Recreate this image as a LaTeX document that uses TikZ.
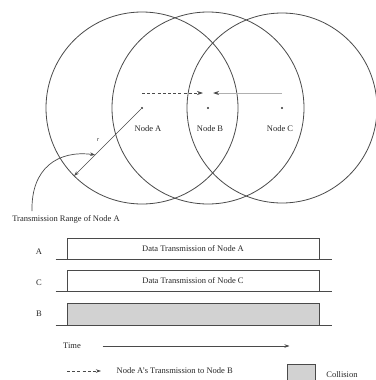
\documentclass[tikz,border=0pt]{standalone}
\usepackage{fontspec}
\setmainfont{Liberation Serif}
\usetikzlibrary{arrows.meta, positioning, calc}
\definecolor{inkgray}{HTML}{4A4A4A}
\definecolor{lightink}{HTML}{B0B0B0}
\definecolor{noisegray}{HTML}{D2D2D2}

\begin{document}
\begin{tikzpicture}[x=1pt, y=-1pt, >={Stealth[length=5pt, width=3.5pt]}, line width=0.7pt,
  lbl/.style={font=\fontsize{8.5}{10}\selectfont, text=black!85},
  dot/.style={circle, fill=black!80, inner sep=0pt, minimum size=2.2pt},
  rangeline/.style={inkgray, line width=0.8pt},
  txbox/.style={draw=inkgray, line width=0.6pt, minimum width=252pt, minimum height=21pt, inner sep=0pt, lbl},
  groundline/.style={inkgray, line width=0.9pt}]

\useasboundingbox (0,0) rectangle (375,380);

% Nodes and their ranges
\node[dot] (A) at (142,108) {};
\node[dot] (B) at (208,108) {};
\node[dot] (C) at (282,108) {};
\draw[rangeline] (A) circle (96pt);
\draw[rangeline] (B) circle (96pt);
\draw[rangeline] (C) circle (95pt);
\node[lbl, below=12pt of A, xshift=6pt] (labA) {Node A};
\node[lbl, below=12pt of B, xshift=2pt] (labB) {Node B};
\node[lbl, below=12pt of C, xshift=-2pt] (labC) {Node C};

% Transmissions towards B
\draw[-{Stealth[length=6pt, width=4pt]}, inkgray, dash pattern=on 3pt off 2.2pt] ([yshift=15pt]A.center) -- ([xshift=-5pt, yshift=15pt]B.center);
\draw[-{Stealth[length=6pt, width=4pt, inkgray]}, lightink, line width=0.9pt] ([yshift=15pt]C.center) -- ([xshift=5pt, yshift=15pt]B.center);

% Radius of A
\coordinate (rim) at ($(A)+(225:96pt)$);
\draw[->, inkgray] (A) -- (rim);
\node[lbl, font=\fontsize{6}{7}\selectfont\itshape] (r) at (98,140) {r};
\coordinate (rtail) at (32,211);
\draw[->, inkgray] (rtail) .. controls (31,168) and (58,150) .. ($(A)!0.69!(rim)$);
\node[lbl] (rangelbl) at (66,219) {Transmission Range of Node A};

% Timing of A, C and B
\node[txbox] (txA) at (193,248.5) {Data Transmission of Node A};
\node[txbox] (txC) at (193,280.5) {Data Transmission of Node C};
\node[txbox, fill=noisegray, minimum height=22pt] (txB) at (193,314) {};
\foreach \n in {txA, txC, txB} {
  \draw[groundline] ([xshift=-11pt]\n.south west) -- ([xshift=13pt]\n.south east);
}
\node[lbl] (rowA) at (39,252) {A};
\node[lbl] (rowC) at (39,283) {C};
\node[lbl] (rowB) at (39,314) {B};

% Time axis
\node[lbl] (time) at (72,346) {Time};
\draw[->, inkgray] ([xshift=18pt]time.east) -- ++(187,0);

% Legend
\node[lbl, anchor=west] (legtx) at (113,371) {Node A's Transmission to Node B};
\draw[->, inkgray, dash pattern=on 3pt off 2.2pt] ([xshift=-46pt]legtx.west) -- ([xshift=-12pt]legtx.west);
\node[draw=inkgray, fill=noisegray, line width=0.6pt, minimum width=28pt, minimum height=16pt, inner sep=0pt] (collbox) at (301,372) {};
\node[lbl] (colltx) at (342,375) {Collision};

\end{tikzpicture}
\end{document}
